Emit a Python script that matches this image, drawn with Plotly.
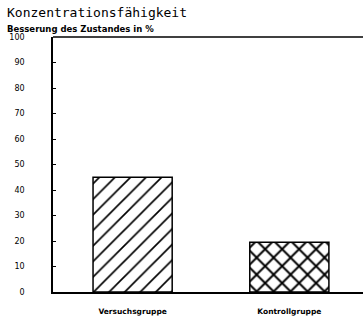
import plotly.graph_objects as go

categories = ["Versuchsgruppe", "Kontrollgruppe"]
values = [45, 19.5]
patterns = ["/", "x"]
y_ticks = [0, 10, 20, 30, 40, 50, 60, 70, 80, 90, 100]

fig = go.Figure()
fig.add_trace(go.Bar(
    x=categories, y=values, width=0.505,
    marker=dict(color="white", line=dict(color="black", width=1.5),
                pattern=dict(shape=patterns, fgcolor="black", fgopacity=1,
                             bgcolor="white", fillmode="overlay",
                             size=[11, 12], solidity=[0.15, 0.3])),
))

fig.add_shape(type="line", xref="paper", yref="paper", x0=0, x1=1, y0=1, y1=1,
              line=dict(color="black", width=1.5))

fig.add_annotation(text="Konzentrationsfähigkeit", xref="paper", yref="paper",
                   x=-48/310, y=1 + 24/255, xanchor="left", yanchor="middle",
                   showarrow=False, font=dict(family="DejaVu Sans Mono", size=13, color="black"))
fig.add_annotation(text="<b>Besserung des Zustandes in %</b>", xref="paper", yref="paper",
                   x=-48/310, y=1 + 8/255, xanchor="left", yanchor="middle",
                   showarrow=False, font=dict(family="DejaVu Sans", size=8.5, color="black"))

fig.update_layout(
    width=363, height=317,
    margin=dict(l=53, r=0, t=37, b=25),
    paper_bgcolor="white", plot_bgcolor="white",
    showlegend=False,
    xaxis=dict(range=[-0.508, 1.47], showgrid=False, showline=True, linecolor="black",
               linewidth=1.5, ticks="", ticklabelstandoff=11,
               tickfont=dict(family="DejaVu Sans", size=7.5, color="black"),
               tickprefix="<b>", ticksuffix="</b>"),
    yaxis=dict(range=[0, 100], tickvals=y_ticks, showgrid=False, showline=True,
               linecolor="black", linewidth=1.5, ticks="inside", ticklen=3,
               tickcolor="black", ticklabelstandoff=25, zeroline=False,
               tickfont=dict(family="DejaVu Sans", size=8, color="black"),
               tickprefix="<b>", ticksuffix="</b>"),
)

fig.write_html("out.html", config={"displayModeBar": False},
               post_script="document.body.style.margin='0';")
